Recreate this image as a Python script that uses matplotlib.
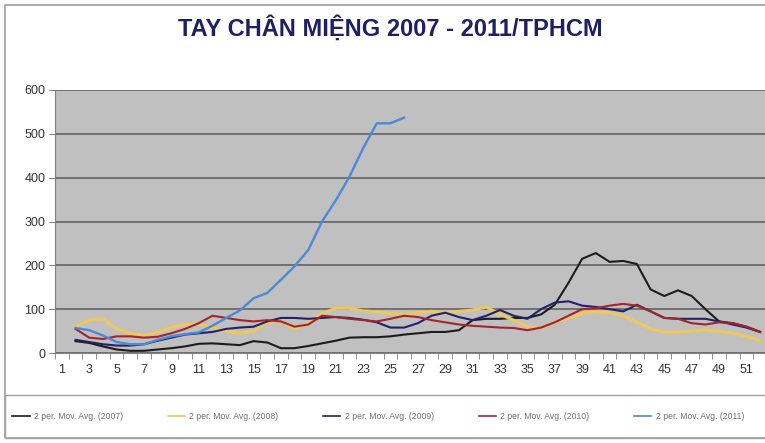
import matplotlib
matplotlib.use("Agg")
import matplotlib.pyplot as plt
from matplotlib.patches import Rectangle
from matplotlib.lines import Line2D
import numpy as np

plt.rcParams['font.family'] = ['Liberation Sans', 'DejaVu Sans']

weeks = np.arange(1, 53)

# 2 period moving averages, week 1 has no value
avg_2007 = [np.nan, 27, 23, 15, 8, 5, 5, 8, 11, 15, 21, 22, 20, 18, 27, 24, 11, 11, 16, 22,
            28, 35, 36, 36, 38, 42, 45, 48, 48, 52, 75, 78, 78, 80, 80, 88, 110, 160, 215,
            228, 208, 210, 203, 145, 130, 143, 130, 100, 72, 68, 60, 48]
avg_2008 = [np.nan, 60, 75, 78, 55, 45, 40, 48, 58, 65, 65, 58, 50, 45, 50, 70, 72, 55, 68, 90,
            102, 102, 96, 94, 90, 88, 92, 95, 92, 95, 98, 105, 88, 75, 60, 57, 70, 80, 90,
            94, 92, 85, 70, 55, 48, 48, 50, 52, 50, 45, 38, 28]
avg_2009 = [np.nan, 30, 25, 20, 17, 17, 20, 28, 35, 42, 45, 48, 55, 58, 60, 72, 80, 80, 78, 80,
            82, 80, 76, 70, 58, 58, 68, 85, 92, 82, 75, 85, 98, 85, 78, 100, 115, 118, 108,
            105, 100, 95, 110, 95, 80, 78, 78, 78, 72, 65, 58, 48]
avg_2010 = [np.nan, 55, 35, 32, 38, 38, 35, 37, 45, 55, 68, 85, 80, 75, 72, 75, 72, 60, 65, 85,
            82, 78, 75, 72, 78, 85, 82, 75, 70, 65, 62, 60, 58, 57, 52, 58, 70, 85, 100,
            102, 108, 112, 108, 95, 80, 78, 68, 65, 70, 68, 60, 48]
avg_2011 = [np.nan, 57, 52, 40, 25, 20, 20, 30, 38, 43, 47, 62, 80, 97, 125, 137, 167, 198, 235,
            300, 348, 402, 467, 524, 524, 537]

series = [
    ("2 per. Mov. Avg. (2007)", avg_2007, "#1c1c1c", 1.5),
    ("2 per. Mov. Avg. (2008)", avg_2008, "#EEC85A", 2.2),
    ("2 per. Mov. Avg. (2009)", avg_2009, "#23206E", 1.5),
    ("2 per. Mov. Avg. (2010)", avg_2010, "#A3242C", 1.5),
    ("2 per. Mov. Avg. (2011)", avg_2011, "#4A8AD6", 1.7),
]

fig = plt.figure(figsize=(7.65, 4.43), dpi=100)
ax = fig.add_axes([55 / 765, 90 / 443, 712 / 765, 263 / 443])
ax.set_facecolor("#C0C0C0")

for label, vals, col, lw in series:
    ax.plot(weeks[:len(vals)], vals, color=col, linewidth=lw, label=label, zorder=3)

ax.set_xlim(0.5, 52.5)
ax.set_ylim(0, 600)
ax.set_yticks(range(0, 601, 100))
ax.yaxis.grid(True, color="#6a6a6a", linewidth=1.3, zorder=1)
ax.set_axisbelow(True)

ax.set_xticks(np.arange(1, 53, 2))
ax.set_xticks(np.arange(0.5, 53, 1), minor=True)
ax.tick_params(axis="x", which="major", length=0, labelsize=9, colors="#333333", pad=8)
ax.tick_params(axis="x", which="minor", length=4, color="#808080")
ax.tick_params(axis="y", length=4, color="#808080", labelsize=9, labelcolor="#333333", pad=3)

for s in ["top", "right"]:
    ax.spines[s].set_visible(False)
ax.spines["left"].set_color("#808080")
ax.spines["bottom"].set_color("#808080")

fig.text(0.51, 0.938, "TAY CHÂN MIỆNG 2007 - 2011/TPHCM", ha="center", va="center",
         fontsize=17, fontweight="bold", color="#1F1F66")

# outer chart frame and legend box
fig.patches.append(Rectangle((5 / 765, 5 / 443), 770 / 765, 433 / 443, transform=fig.transFigure,
                             fill=False, edgecolor="#A0A0A0", linewidth=1.2))
fig.patches.append(Rectangle((5 / 765, 5 / 443), 770 / 765, 43 / 443, transform=fig.transFigure,
                             fill=False, edgecolor="#A0A0A0", linewidth=1.0))

handles = [Line2D([0], [0], color=c, linewidth=1.2) for _, _, c, _ in series]
labels = [s[0] for s in series]
fig.legend(handles, labels, loc="center left", bbox_to_anchor=(0.006, 0.06), ncol=5,
           frameon=False, fontsize=6.2, labelcolor="#707070", handlelength=2.0,
           columnspacing=5.2, handletextpad=0.5)

fig.savefig("out.png", dpi=100)
